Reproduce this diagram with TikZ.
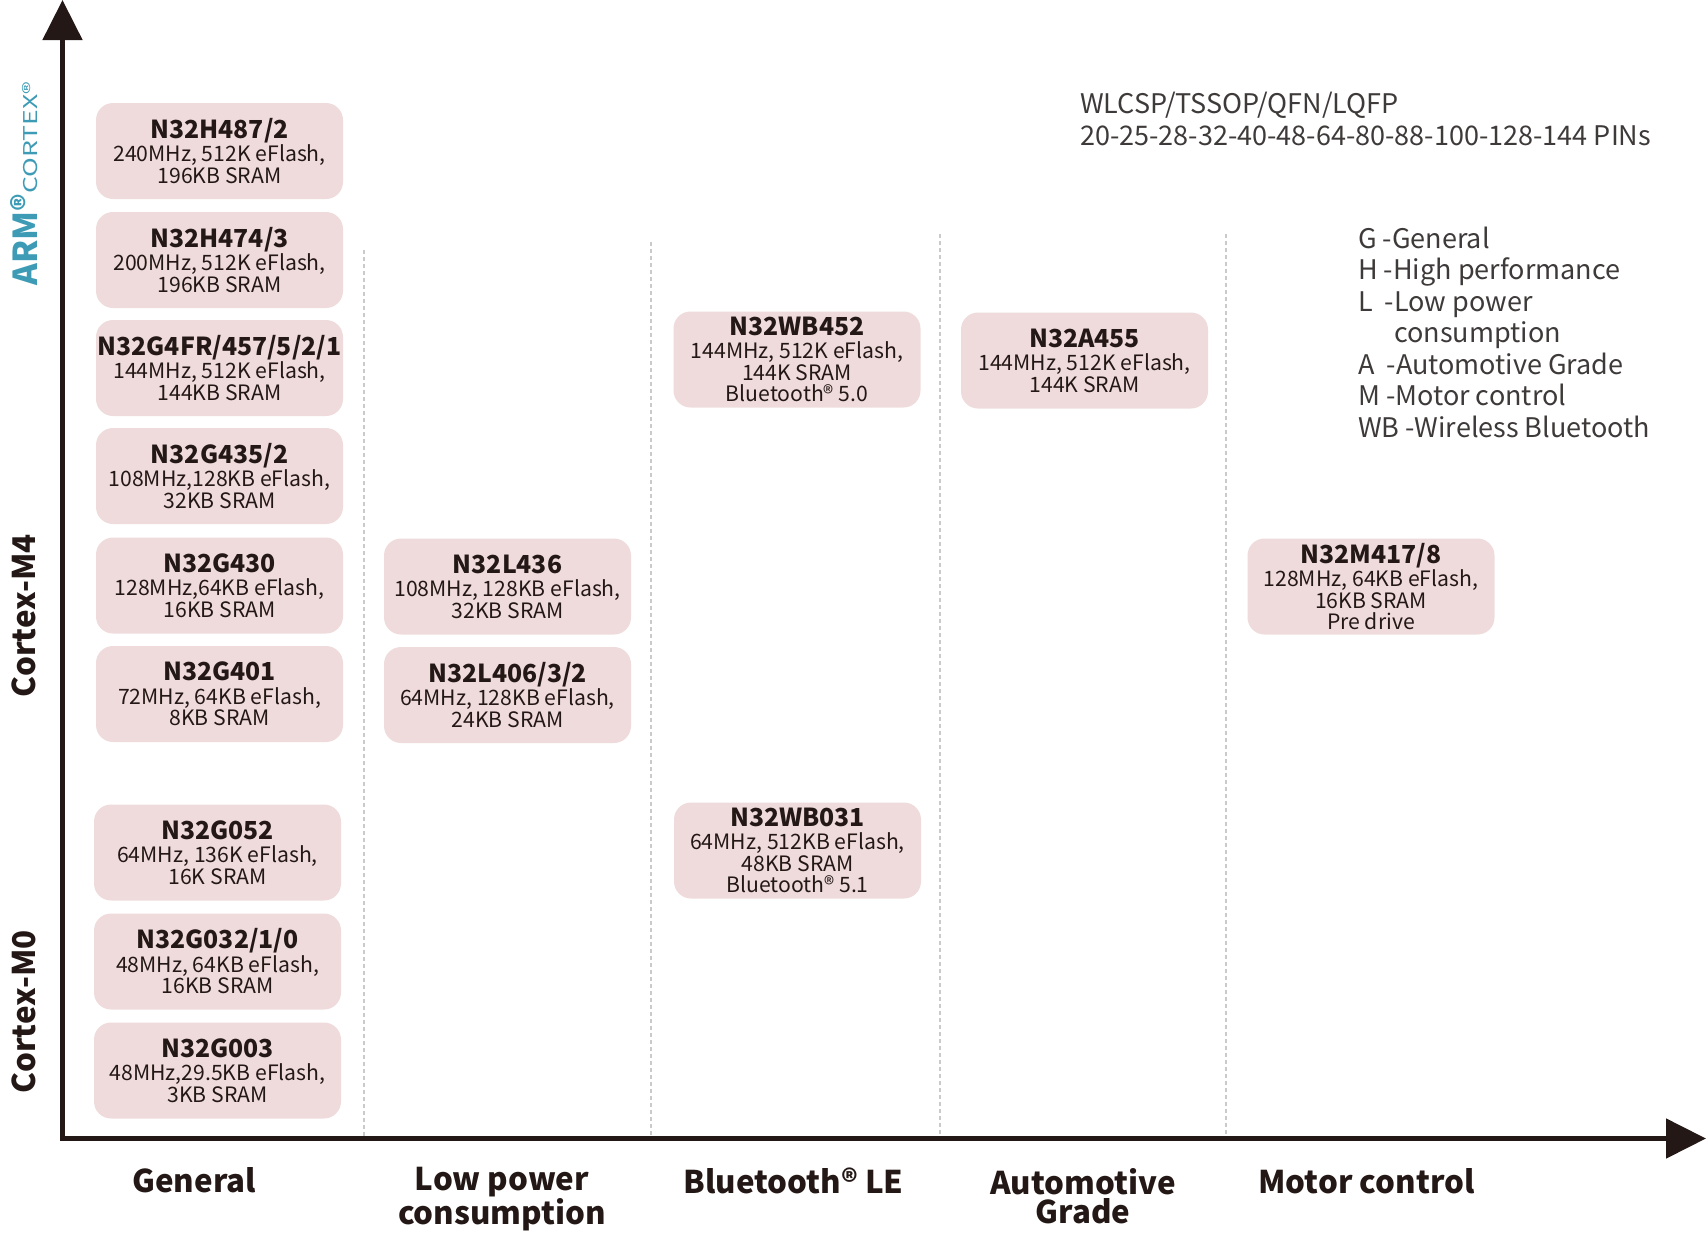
\documentclass[tikz,border=0pt]{standalone}
\usepackage{fontspec}
\setmainfont{Noto Sans CJK SC}
\usepackage{graphicx}
\usepackage{tikz}
\usetikzlibrary{arrows.meta}

\definecolor{ink}{HTML}{231815}
\definecolor{chipfill}{HTML}{EFDBDB}
\definecolor{sepgray}{HTML}{C9CACA}
\definecolor{notegray}{HTML}{3E3A39}
\definecolor{armteal}{HTML}{3E9BB6}

\newcommand{\partno}[1]{{\fontsize{24.8}{24.8}\selectfont\bfseries #1}\\[1.6pt]}

\begin{document}
\begin{tikzpicture}[x=1pt,y=-1pt,
    chip/.style={fill=chipfill,rounded corners=17pt,minimum width=247pt,minimum height=96pt,
      inner sep=0pt,align=center,text=ink,font=\fontsize{21.2}{21.7}\selectfont},
    axis/.style={ink,line width=5pt,{Triangle[length=40pt,width=39pt]}-{Triangle[length=40pt,width=39pt]}},
    sep/.style={sepgray,line width=1.5pt,dash pattern=on 4pt off 3pt},
    cat/.style={text=ink,anchor=base,align=center,font=\fontsize{31.3}{29}\selectfont\bfseries},
    note/.style={text=notegray,anchor=base west,align=left,inner sep=0pt,font=\fontsize{27}{31.5}\selectfont}]
  \useasboundingbox (0,0) rectangle (1708,1232);

  % axes
  \coordinate (orig) at (62.5,1138.5);
  \coordinate (ytip) at (62.5,0);
  \coordinate (xtip) at (1706,1138.5);

  % column separators
  \draw[sep] (364,250) -- (364,1136);
  \draw[sep] (651,242) -- (651,1136);
  \draw[sep] (940,234) -- (940,1136);
  \draw[sep] (1226,234) -- (1226,1136);

  \draw[axis] (xtip) -- (orig) -- (ytip);

  % general
  \node[chip] (h487) at (219.5,151) {\partno{N32H487/2}240MHz, 512K eFlash,\\196KB SRAM};
  \node[chip] (h474) at (219.5,260) {\partno{N32H474/3}200MHz, 512K eFlash,\\196KB SRAM};
  \node[chip] (g4fr) at (219.5,368) {\partno{N32G4FR/457/5/2/1}144MHz, 512K eFlash,\\144KB SRAM};
  \node[chip] (g435) at (219.5,476) {\partno{N32G435/2}108MHz,128KB eFlash,\\32KB SRAM};
  \node[chip] (g430) at (219.5,585.5) {\partno{N32G430}128MHz,64KB eFlash,\\16KB SRAM};
  \node[chip] (g401) at (219.5,694) {\partno{N32G401}72MHz, 64KB eFlash,\\8KB SRAM};
  \node[chip] (g052) at (217.5,852.5) {\partno{N32G052}64MHz, 136K eFlash,\\16K SRAM};
  \node[chip] (g032) at (217.5,961.5) {\partno{N32G032/1/0}48MHz, 64KB eFlash,\\16KB SRAM};
  \node[chip] (g003) at (217.5,1070.5) {\partno{N32G003}48MHz,29.5KB eFlash,\\3KB SRAM};

  % low power
  \node[chip] (l436) at (507.5,586.5) {\partno{N32L436}108MHz, 128KB eFlash,\\32KB SRAM};
  \node[chip] (l406) at (507.5,695) {\partno{N32L406/3/2}64MHz, 128KB eFlash,\\24KB SRAM};

  % bluetooth
  \node[chip] (wb452) at (797,359.5) {\partno{N32WB452}144MHz, 512K eFlash,\\144K SRAM\\Bluetooth® 5.0};
  \node[chip] (wb031) at (797.5,850.5) {\partno{N32WB031}64MHz, 512KB eFlash,\\48KB SRAM\\Bluetooth® 5.1};

  % automotive
  \node[chip] (a455) at (1084.5,360.5) {\partno{N32A455}144MHz, 512K eFlash,\\144K SRAM};

  % motor
  \node[chip] (m417) at (1371,586.5) {\partno{N32M417/8}128MHz, 64KB eFlash,\\16KB SRAM\\Pre drive};

  % core labels
  \node[rotate=90,anchor=base,inner sep=0pt,text=armteal] (arm) at (37,183.5)
    {{\fontsize{33}{33}\selectfont\bfseries ARM®}\scalebox{1.4}[1]{\fontsize{19}{19}\selectfont CORTEX®}};
  \node[cat,rotate=90,inner sep=0pt] (m4) at (35,616) {Cortex-M4};
  \node[cat,rotate=90,inner sep=0pt] (m0) at (35,1012) {Cortex-M0};

  % application labels
  \node[cat] (general) at (194,1192) {General};
  \node[cat] (lowpower) at (502,1224) {Low power\\consumption};
  \node[cat] (ble) at (793.5,1193) {Bluetooth® LE};
  \node[cat] (auto) at (1083,1223) {Automotive\\Grade};
  \node[cat] (motor) at (1366.5,1193) {Motor control};

  % packages and legend
  \node[note] (pkg) at (1080,145) {WLCSP/TSSOP/QFN/LQFP\\20-25-28-32-40-48-64-80-88-100-128-144 PINs};
  \node[note] (legend) at (1358,437) {G -General\\H -High performance\\L\ \ -Low power\\\hspace*{36pt}consumption\\A\ \ -Automotive Grade\\M -Motor control\\WB -Wireless Bluetooth};
\end{tikzpicture}
\end{document}
